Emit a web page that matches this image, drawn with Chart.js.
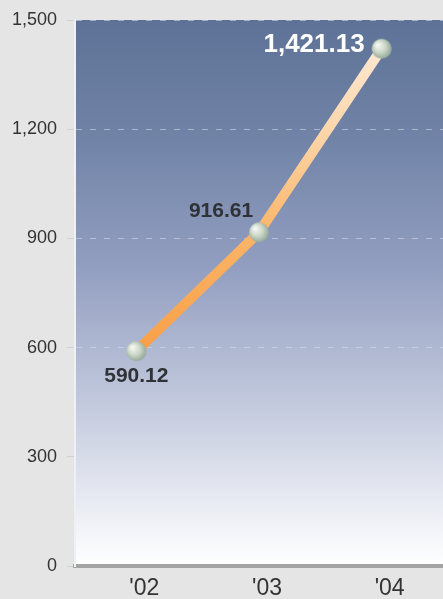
<!DOCTYPE html>
<html>
<head>
<meta charset="utf-8">
<script src="https://cdn.jsdelivr.net/npm/chart.js@4/dist/chart.umd.min.js"></script>
<style>
  html, body { margin: 0; padding: 0; background: #e5e5e5; overflow: hidden; }
  #wrap { width: 443px; height: 599px; position: relative; }
</style>
</head>
<body>
<div id="wrap"><canvas id="myChart"></canvas></div>
<script>
const years = ["'02", "'03", "'04"];
const values = [590.12, 916.61, 1421.13];
const yTicks = [0, 300, 600, 900, 1200, 1500];

// where each value label sits relative to its point
const labelPlace = [
  { dx: 0, dy: 25, align: 'center', size: 21, color: '#2f3236' },
  { dx: -38, dy: -21, align: 'center', size: 21, color: '#2f3236' },
  { dx: -17, dy: -4, align: 'right', size: 26, color: '#ffffff' }
];

function sphere(r) {
  const c = document.createElement('canvas');
  c.width = c.height = r * 2 + 2;
  const g = c.getContext('2d');
  const grad = g.createRadialGradient(r * 0.7, r * 0.7, 1, r + 1, r + 1, r * 1.3);
  grad.addColorStop(0, '#f4f7f1');
  grad.addColorStop(0.45, '#c9d5c6');
  grad.addColorStop(1, '#7a927f');
  g.fillStyle = grad;
  g.beginPath();
  g.arc(r + 1, r + 1, r, 0, Math.PI * 2);
  g.fill();
  return c;
}

const plotBackground = {
  id: 'plotBackground',
  beforeDraw(chart) {
    const { ctx, chartArea: a } = chart;
    const grad = ctx.createLinearGradient(0, a.top, 0, a.bottom);
    grad.addColorStop(0, '#5d7296');
    grad.addColorStop(0.22, '#7184a8');
    grad.addColorStop(0.45, '#929ec0');
    grad.addColorStop(0.7, '#c2c9dd');
    grad.addColorStop(0.9, '#eceef5');
    grad.addColorStop(1, '#ffffff');
    ctx.save();
    ctx.fillStyle = grad;
    ctx.fillRect(a.left, a.top, a.right - a.left, a.bottom - a.top);
    ctx.restore();
  }
};

const valueLabels = {
  id: 'valueLabels',
  afterDatasetsDraw(chart) {
    const { ctx } = chart;
    const meta = chart.getDatasetMeta(0);
    ctx.save();
    ctx.textBaseline = 'middle';
    meta.data.forEach((pt, i) => {
      const p = labelPlace[i];
      ctx.font = 'bold ' + p.size + 'px "Liberation Sans", Arial, sans-serif';
      ctx.fillStyle = p.color;
      ctx.textAlign = p.align;
      const txt = values[i].toLocaleString('en-US', { minimumFractionDigits: 2 });
      ctx.fillText(txt, pt.x + p.dx, pt.y + p.dy);
    });
    ctx.restore();
  }
};

const ctx = document.getElementById('myChart').getContext('2d');

new Chart(ctx, {
  type: 'line',
  data: {
    labels: years,
    datasets: [{
      data: values,
      borderWidth: 10,
      borderCapStyle: 'butt',
      borderColor: (c) => {
        const a = c.chart.chartArea;
        if (!a) return '#f9a040';
        const g = c.chart.ctx.createLinearGradient(0, a.bottom, 0, a.top);
        g.addColorStop(0.3, '#f7963a');
        g.addColorStop(0.6, '#fbb466');
        g.addColorStop(0.8, '#fdd6ac');
        g.addColorStop(1, '#fdeedd');
        return g;
      },
      tension: 0,
      fill: false,
      clip: false,
      pointStyle: sphere(10),
      pointRadius: 10,
      pointHoverRadius: 10
    }]
  },
  options: {
    responsive: true,
    maintainAspectRatio: false,
    animation: false,
    layout: { autoPadding: false, padding: { top: 20, right: 0, left: 0, bottom: 0 } },
    plugins: {
      legend: { display: false },
      tooltip: { enabled: false }
    },
    scales: {
      x: {
        offset: true,
        grid: { display: false },
        border: { display: true, color: '#a4a4a4', width: 4 },
        ticks: {
          color: '#333333',
          padding: 1,
          labelOffset: 8,
          font: { family: '"Liberation Sans", Arial, sans-serif', size: 23 }
        },
        afterFit(scale) {
          scale.height = 33;
          scale.paddingLeft = 0;
          scale.paddingRight = 0;
        }
      },
      y: {
        min: 0,
        max: 1500,
        afterBuildTicks(scale) { scale.ticks = yTicks.map(v => ({ value: v })); },
        grid: {
          color: 'rgba(214,219,232,0.6)',
          lineWidth: 1,
          tickLength: 8,
          tickColor: 'rgba(200,202,210,0.8)'
        },
        border: { display: true, color: '#eef0f6', width: 2, dash: [6, 8] },
        ticks: {
          color: '#333333',
          padding: 10,
          font: { family: '"Liberation Sans", Arial, sans-serif', size: 18 },
          callback: (v) => v.toLocaleString('en-US')
        },
        afterFit(scale) {
          scale.width = 75;
          scale.paddingTop = 0;
          scale.paddingBottom = 0;
        }
      }
    }
  },
  plugins: [plotBackground, valueLabels]
});
</script>
</body>
</html>
